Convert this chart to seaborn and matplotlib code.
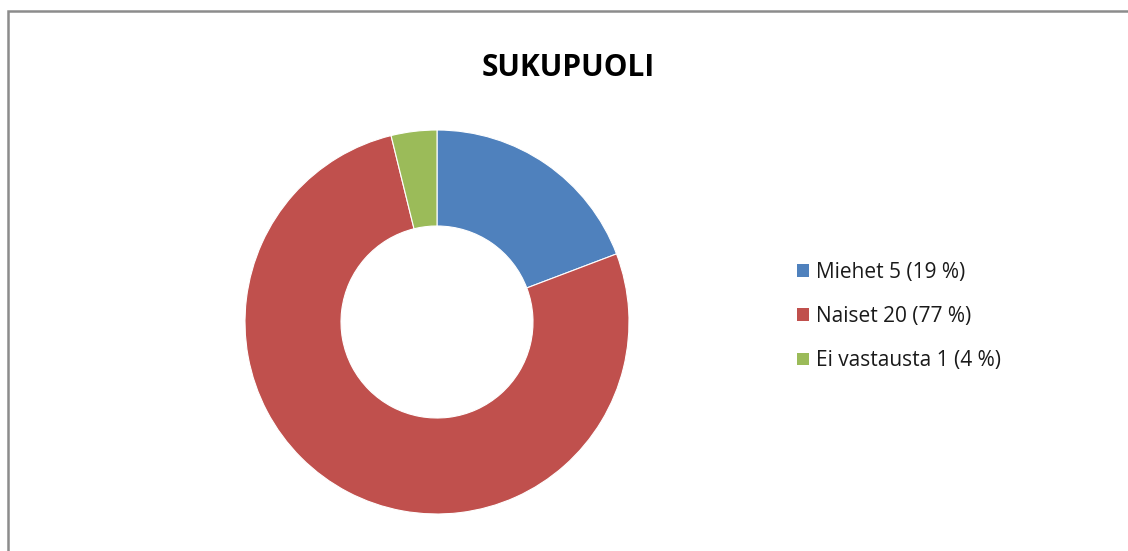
import matplotlib
matplotlib.use("Agg")
import matplotlib.pyplot as plt
from matplotlib.patches import Patch, Rectangle
import seaborn as sns

categories = ["Miehet", "Naiset", "Ei vastausta"]
counts = [5, 20, 1]
percents = [19, 77, 4]
colors = ["#4F81BD", "#C0504D", "#9BBB59"]
title = "SUKUPUOLI"

sns.set_theme(style="white")
plt.rcParams["font.family"] = ["Open Sans", "DejaVu Sans"]

W, H = 1128, 551
fig = plt.figure(figsize=(W / 100, H / 100), dpi=100)
fig.patch.set_facecolor("white")

# outer border (partially visible)
fig.patches.append(Rectangle((8 / W, -0.1), 1.2, 1 - 11 / H + 0.1,
                             transform=fig.transFigure, fill=False,
                             edgecolor="#8c8c8c", linewidth=1.8))

cx, cy, r = 437, 322, 192
ax = fig.add_axes([(cx - r) / W, (H - cy - r) / H, 2 * r / W, 2 * r / H])
wedges, _ = ax.pie(counts, colors=colors, startangle=90, counterclock=False,
                   radius=1.0,
                   wedgeprops=dict(width=0.5, edgecolor="white", linewidth=0.8))
ax.set_xlim(-1, 1)
ax.set_ylim(-1, 1)
ax.set_aspect("equal")
ax.axis("off")

fig.text(568 / W, 1 - 68 / H, title, ha="center", va="center",
         fontsize=21.5, fontweight="bold", color="black")

labels = [f"{c} {n} ({p} %)" for c, n, p in zip(categories, counts, percents)]
handles = [Patch(facecolor=c, edgecolor="none") for c in colors]
fig.legend(handles, labels, loc="center left",
           bbox_to_anchor=(789 / W, 1 - 316.5 / H), frameon=False,
           fontsize=15, handlelength=0.55, handleheight=0.55,
           handletextpad=0.35, labelspacing=1.12, borderaxespad=0,
           labelcolor="#1a1a1a")

fig.savefig("out.png", dpi=100, facecolor="white")
